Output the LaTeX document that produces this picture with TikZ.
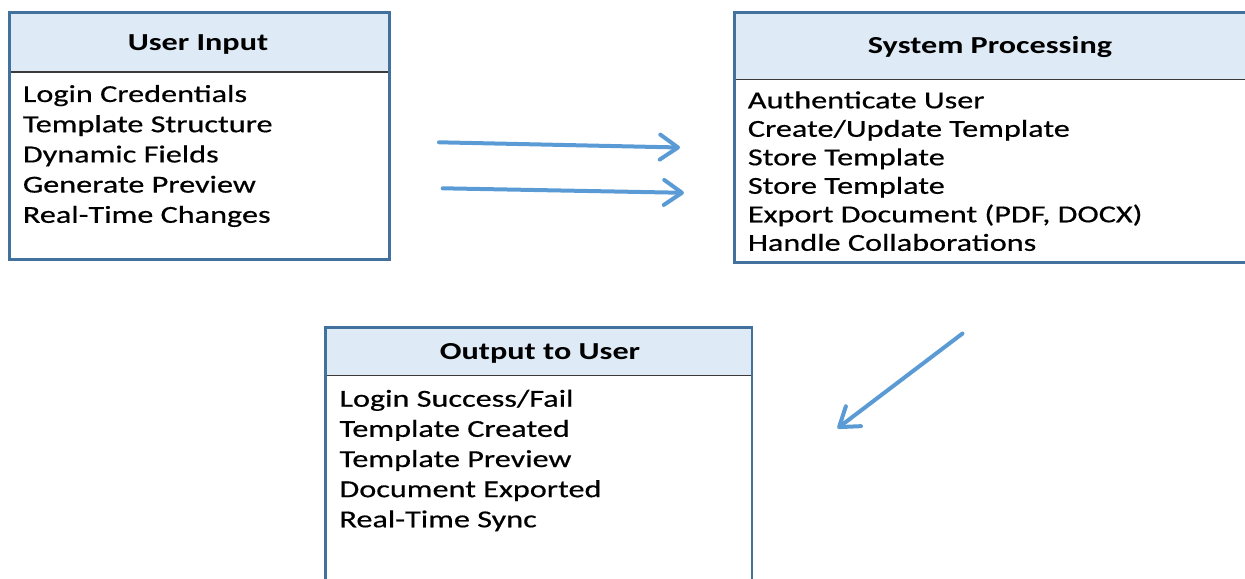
\documentclass[tikz,border=0pt]{standalone}
\usepackage{fontspec}
\setmainfont{Carlito}[FakeStretch=1.32, UprightFeatures={FakeBold=0.5}]
\usetikzlibrary{arrows.meta}
\definecolor{frameblue}{HTML}{41719C}
\definecolor{headfill}{HTML}{DEEBF7}
\definecolor{arrowblue}{HTML}{5B9BD5}
\definecolor{rulegray}{HTML}{3A3A3A}
\tikzset{
  frame/.style={draw=frameblue, line width=2.6bp},
  headband/.style={fill=headfill, draw=none},
  divider/.style={draw=rulegray, line width=1.3bp},
  title/.style={font=\fontsize{24.4bp}{29bp}\selectfont\bfseries, inner sep=0pt, anchor=base},
  item/.style={font=\fontsize{24.4bp}{29bp}\selectfont, inner sep=0pt, anchor=base west},
  flow/.style={draw=arrowblue, line width=4bp, line cap=round,
    -{Straight Barb[length=18bp, width=25bp, line cap=round, line join=round]}},
}
\begin{document}
\begin{tikzpicture}[x=1bp, y=-1bp]
\useasboundingbox (0,0) rectangle (1245,579);

% --- User Input ---
\fill[headband] (8,11.5) rectangle (388,72);
\draw[divider] (8,72) -- (388,72);
\node[frame, rectangle, inner sep=0pt, minimum width=380bp, minimum height=246.5bp, anchor=north west] (inbox) at (8,11.5) {};
\node[title] (intitle) at (198,51) {User Input};
\foreach [count=\i] \t in {Login Credentials, Template Structure, Dynamic Fields, Generate Preview, Real-Time Changes}
  \node[item] (in-\i) at (22.7, {102+30.2*(\i-1)}) {\t};

% --- System Processing ---
\fill[headband] (733,11.3) rectangle (1260,79.5);
\draw[divider] (733,79.5) -- (1260,79.5);
\node[frame, rectangle, inner sep=0pt, minimum width=527bp, minimum height=249.7bp, anchor=north west] (sysbox) at (733,11.3) {};
\node[title] (systitle) at (990,54) {System Processing};
\foreach [count=\i] \t in {Authenticate User, Create/Update Template, Store Template, Store Template, {Export Document (PDF, DOCX)}, Handle Collaborations}
  \node[item] (sys-\i) at (747.7, {108.3+28.5*(\i-1)}) {\t};

% --- Output to User ---
\fill[headband] (324,326) rectangle (750.7,375.7);
\draw[divider] (324,375.7) -- (750.7,375.7);
\node[frame, rectangle, inner sep=0pt, minimum width=426.7bp, minimum height=274bp, anchor=north west] (outbox) at (324,326) {};
\node[title] (outtitle) at (540,360) {Output to User};
\foreach [count=\i] \t in {Login Success/Fail, Template Created, Template Preview, Document Exported, Real-Time Sync}
  \node[item] (out-\i) at (339.3, {406.7+30.15*(\i-1)}) {\t};

% --- flow arrows ---
\coordinate (a1s) at (439,142.3);
\coordinate (a1e) at (680,147.5);
\coordinate (a2s) at (442.7,188.3);
\coordinate (a2e) at (684,192.8);
\coordinate (a3s) at (962.5,333.5);
\coordinate (a3e) at (837.5,428.3);
\draw[flow] (a1s) -- (a1e);
\draw[flow] (a2s) -- (a2e);
\draw[flow] (a3s) -- (a3e);
\end{tikzpicture}
\end{document}
